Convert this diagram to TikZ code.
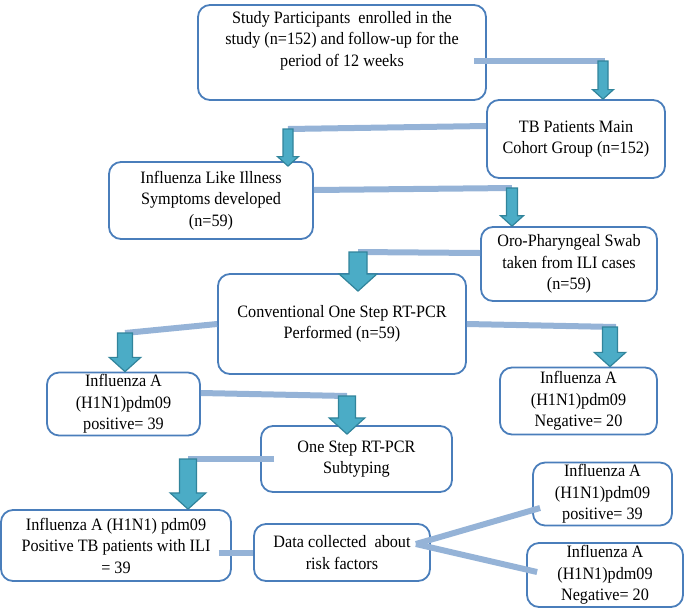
\documentclass[tikz,border=0pt]{standalone}
\usepackage{fontspec}
\setmainfont{Liberation Serif}[FakeStretch=0.93]
\usetikzlibrary{calc}

\definecolor{boxblue}{HTML}{4A7EBB}
\definecolor{linkblue}{HTML}{95B3D7}
\definecolor{arrowfill}{HTML}{4BACC6}
\definecolor{arrowedge}{HTML}{31849B}

\tikzset{
  box/.style={draw=boxblue, line width=1.8pt, rounded corners=12pt, fill=white,
    align=center, inner sep=2pt, font=\fontsize{17.4}{21.5}\selectfont},
  link/.style={draw=linkblue, line width=6pt},
  fatarrow/.style={fill=arrowfill, draw=arrowedge, line width=1.2pt},
}

\newcommand\flowdown[4]{%
  \filldraw[fatarrow] let \p1=(#1), \p2=(#2.north) in
    (\x1-#3pt,\y1) -- (\x1+#3pt,\y1) -- (\x1+#3pt,\y2-#4pt+1.9*#3pt)
    -- (\x1+2.1*#3pt,\y2-#4pt+1.9*#3pt) -- (\x1,\y2-#4pt)
    -- (\x1-2.1*#3pt,\y2-#4pt+1.9*#3pt) -- (\x1-#3pt,\y2-#4pt+1.9*#3pt) -- cycle;}

\begin{document}
\begin{tikzpicture}[x=1pt, y=-1pt]
        \useasboundingbox (0,0) rectangle (685,611);

        \node[box, minimum width=288pt, minimum height=95pt] (study) at (342,52.5)
          {Study Participants\ \ enrolled in the\\study (n=152) and follow-up for the\\period of 12 weeks\\ \strut};
        \node[box, minimum width=178pt, minimum height=78pt] (cohort) at (576,139)
          {TB Patients Main\\Cohort Group (n=152)};
        \node[box, minimum width=204pt, minimum height=77pt] (ili) at (211,200.5)
          {Influenza Like Illness\\Symptoms developed\\(n=59)};
        \node[box, minimum width=176pt, minimum height=74pt] (swab) at (569,264)
          {Oro-Pharyngeal Swab\\taken from ILI cases\\(n=59)};
        \node[box, minimum width=248pt, minimum height=100pt] (pcr) at (342,324)
          {Conventional One Step RT-PCR\\Performed (n=59)};
        \node[box, minimum width=153pt, minimum height=60pt] (posA) at (123.5,404)
          {Influenza A\\(H1N1)pdm09\\positive= 39};
        \node[box, minimum width=157pt, minimum height=67pt] (negA) at (578.5,401)
          {Influenza A\\(H1N1)pdm09\\Negative= 20};
        \node[box, minimum width=191pt, minimum height=66pt] (sub) at (356.5,459)
          {One Step RT-PCR\\Subtyping};
        \node[box, minimum width=230pt, minimum height=71pt] (posTB) at (116,545.5)
          {Influenza A (H1N1) pdm09\\Positive TB patients with ILI\\= 39};
        \node[box, minimum width=176pt, minimum height=57pt] (data) at (342,552.5)
          {Data collected\ \ about\\risk factors};
        \node[box, minimum width=139pt, minimum height=58pt] (pos2) at (602.5,494)
          {Influenza A\\(H1N1)pdm09\\positive= 39};
        \node[box, minimum width=156pt, minimum height=64pt] (neg2) at (605,575)
          {Influenza A\\(H1N1)pdm09\\Negative= 20};

        \coordinate (k1) at (603,61);
        \coordinate (k2) at (288,129);
        \coordinate (k3) at (512,188);
        \coordinate (k4) at (358,252);
        \coordinate (k5) at (125,333);
        \coordinate (k6) at (610,327);
        \coordinate (k7) at (347,396);
        \coordinate (k8) at (188,459);

        \draw[link] ($(study.east |- k1)+(-13,0)$) -- ($(k1)+(2,0)$);
        \draw[link] ([yshift=13pt]cohort.west) -- (k2);
        \draw[link] ([yshift=10.5pt]ili.east) -- (k3);
        \draw[link] ([yshift=11pt]swab.west) -- (k4);
        \draw[link] (pcr.west) -- (k5);
        \draw[link] (pcr.east) -- ($(k6)+(6,0)$);
        \draw[link] ([yshift=11pt]posA.east) -- (k7);
        \draw[link] ($(sub.west)+(14,0)$) -- (k8);
        \draw[link] ($(posTB.east)+(-13,7)$) -- (data.west);
        \draw[link] ($(data.east)+(-15,-8.5)$) -- ($(pos2.west)+(8,14)$);
        \draw[link] ($(data.east)+(-15,-8.5)$) -- ($(neg2.west)+(11,-3)$);

        \flowdown{k1}{cohort}{5}{0}
        \flowdown{k2}{ili}{5}{5}
        \flowdown{k3}{swab}{5.5}{0}
        \flowdown{k4}{pcr}{9}{18}
        \flowdown{k5}{posA}{7.5}{0}
        \flowdown{k6}{negA}{7.5}{0}
        \flowdown{k7}{sub}{8.5}{9}
        \flowdown{k8}{posTB}{8.5}{0}
      \end{tikzpicture}
\end{document}
